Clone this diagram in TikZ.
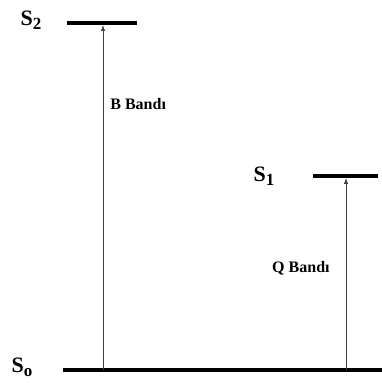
\documentclass[tikz,border=0pt]{standalone}
\usepackage{fontspec}
\setmainfont{Liberation Serif}
\usetikzlibrary{arrows.meta}
\newcommand{\lvlname}[2]{S\raisebox{-0.4ex}{\fontsize{17}{17}\selectfont #2}}
\begin{document}
\begin{tikzpicture}[x=1pt, y=1pt,
  level/.style={line width=3.5pt},
  trans/.style={-{Latex[length=6pt,width=4.5pt]}, line width=0.8pt, black!75},
  lbl/.style={font=\bfseries\fontsize{22}{26}\selectfont, inner sep=0pt},
  band/.style={font=\bfseries\fontsize{16}{19}\selectfont, text=black, inner sep=0pt}]
  \useasboundingbox (0,0) rectangle (382,383);

  % energy levels
  \coordinate (s0l) at (63,13);   \coordinate (s0r) at (382,13);
  \coordinate (s1l) at (313,207); \coordinate (s1r) at (378,207);
  \coordinate (s2l) at (67,360);  \coordinate (s2r) at (137,360);
  \draw[level] (s0l) -- (s0r);
  \draw[level] (s1l) -- (s1r);
  \draw[level] (s2l) -- (s2r);

  \node (s0) [lbl] at (22,16)  {\lvlname{S}{o}};
  \node (s1) [lbl] at (264,207) {\lvlname{S}{1}};
  \node (s2) [lbl] at (31,363) {\lvlname{S}{2}};

  % transitions
  \coordinate (b0) at (103,13);  \coordinate (b2) at (103,358);
  \coordinate (q0) at (346,13);  \coordinate (q1) at (346,205);
  \draw[trans] (b0) -- (b2) node[band, pos=0.77, right=7pt] {B Bandı};
  \draw[trans] (q0) -- (q1) node[band, pos=0.53, left=16pt] {Q Bandı};
\end{tikzpicture}
\end{document}
